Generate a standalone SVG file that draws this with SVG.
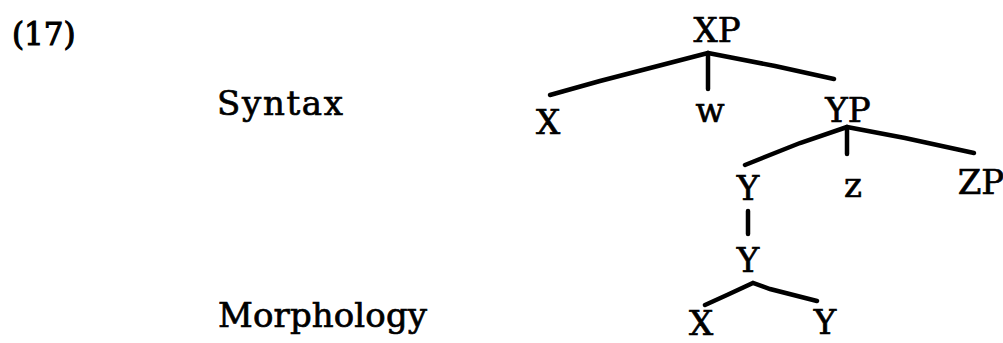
<svg xmlns="http://www.w3.org/2000/svg" width="1003" height="343" viewBox="0 0 1003 343">
<style>
text{font-family:"DejaVu Serif","Liberation Serif",serif;fill:#000;stroke:#000;stroke-width:0.7}
.lbl{font-size:34px}
.node{text-anchor:middle}
.edge{stroke:#000;stroke-width:4.5;stroke-linecap:round;fill:none}
</style>
<rect width="1003" height="343" fill="#fff"/>
<text id="num" x="12" y="45" font-size="31" style="stroke-width:1.1">(17)</text>
<text id="syntax" class="lbl" x="217" y="115" textLength="126">Syntax</text>
<text id="morph" class="lbl" x="218" y="327" textLength="209">Morphology</text>
<g id="edges">
<polyline class="edge" points="550,95 600,81 708,53"/>
<line class="edge" x1="708" y1="53" x2="708" y2="89"/>
<polyline class="edge" points="708,53 775,66 834,79"/>
<polyline class="edge" points="745,165 800,143 847,127"/>
<line class="edge" x1="847" y1="127" x2="847" y2="154"/>
<polyline class="edge" points="847,127 905,138 974,153"/>
<line class="edge" x1="748" y1="211" x2="748" y2="234"/>
<polyline class="edge" points="705,305 727,295 753,283 770,289 817,301"/>
</g>
<g id="n-XP"><text class="lbl node" x="717" y="42">XP</text></g>
<g id="n-X"><text class="lbl node" x="548" y="134">X</text></g>
<g id="n-w"><text class="lbl node" x="710" y="122">w</text></g>
<g id="n-YP"><text class="lbl node" x="848" y="122">YP</text></g>
<g id="n-Y1"><text class="lbl node" x="748" y="200">Y</text></g>
<g id="n-z"><text class="lbl node" x="853" y="197">z</text></g>
<g id="n-ZP"><text class="lbl node" x="981" y="194">ZP</text></g>
<g id="n-Y2"><text class="lbl node" x="748" y="272">Y</text></g>
<g id="n-X2"><text class="lbl node" x="701" y="335">X</text></g>
<g id="n-Y3"><text class="lbl node" x="825" y="334">Y</text></g>
</svg>
